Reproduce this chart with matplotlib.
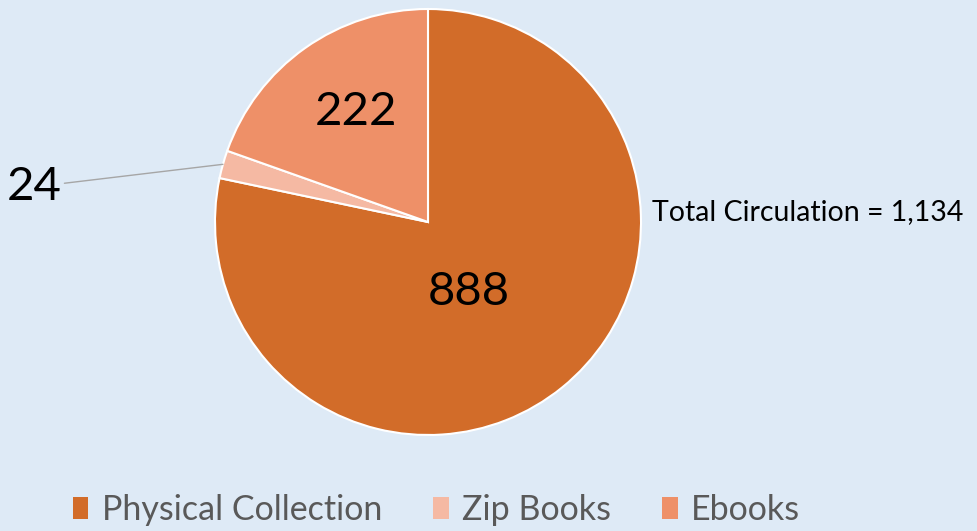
import numpy as np
import matplotlib.pyplot as plt

# circulation by source
categories = ['Physical Collection', 'Zip Books', 'Ebooks']
values = [888, 24, 222]
colors = ['#D26C29', '#F5B9A3', '#EE9068']
total_text = 'Total Circulation = 1,134'

plt.rcParams['font.family'] = ['Lato', 'DejaVu Sans']

bg = '#DEEAF6'
fig = plt.figure(figsize=(9.77, 5.31), dpi=100, facecolor=bg)
W, H = 977, 531
cx, cy, r = 428, 222, 213
ax = fig.add_axes([(cx - r) / W, (H - cy - r) / H, 2 * r / W, 2 * r / H])
ax.set_facecolor(bg)

wedges, _ = ax.pie(values, colors=colors, startangle=90, counterclock=False,
                   radius=1.0, wedgeprops=dict(edgecolor='white', linewidth=1.5))
ax.set_xlim(-1, 1)
ax.set_ylim(-1, 1)
ax.axis('off')

# inside labels (distance, angle shift from wedge middle)
for w, v, dist, shift in [(wedges[0], values[0], 0.38, -9), (wedges[2], values[2], 0.62, -2)]:
    ang = np.deg2rad((w.theta1 + w.theta2) / 2 + shift)
    ax.text(dist * np.cos(ang), dist * np.sin(ang), str(v), ha='center', va='center',
            fontsize=34, color='black')

# small slice label with leader line
w = wedges[1]
ang = np.deg2rad((w.theta1 + w.theta2) / 2)
ax.annotate(str(values[1]), xy=(np.cos(ang), np.sin(ang)), xytext=(-1.72, 0.165),
            ha='right', va='center', fontsize=34, color='black',
            arrowprops=dict(arrowstyle='-', color='#A6A6A6', lw=1, shrinkA=0, shrinkB=0))

fig.text(652 / W, (H - 212) / H, total_text, ha='left', va='center', fontsize=20.5, color='black')

handles = [plt.Rectangle((0, 0), 1, 1, facecolor=c, edgecolor='none') for c in colors]
leg = fig.legend(handles, categories, loc='center', bbox_to_anchor=(0.447, 0.04), ncol=3,
                 frameon=False, fontsize=24.5, handlelength=0.45, handleheight=0.6,
                 handletextpad=0.4, columnspacing=1.5)
for t in leg.get_texts():
    t.set_color('#595959')

fig.savefig('out.png', dpi=100, facecolor=bg)
